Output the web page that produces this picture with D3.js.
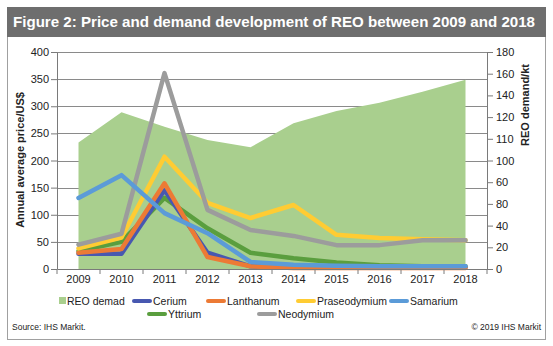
<!DOCTYPE html>
<html lang="en">
<head>
  <meta charset="UTF-8"/>
  <title>Price and demand development of REO</title>
  <style>
    *{margin:0;padding:0;box-sizing:border-box}
    body{background:#fff;font-family:"Liberation Sans",Arial,sans-serif}
    svg text{font-family:"Liberation Sans",Arial,sans-serif}
  </style>
</head>
<body>
<svg id="chart" width="553" height="346"></svg>
<script src="https://d3js.org/d3.v7.min.js"></script>
<script>
  // data
  const years = ['2009','2010','2011','2012','2013','2014','2015','2016','2017','2018'];
  const demand = [105, 130, 118, 107, 101, 121, 131, 138, 147, 157];   // kt (right axis)
  const cerium       = [28, 28, 145, 30, 5, 3, 3, 3, 3, 3];
  const lanthanum    = [30, 37, 158, 22, 5, 2, 2, 2, 2, 2];
  const praseodymium = [38, 58, 207, 122, 94, 118, 63, 57, 55, 53];
  const samarium     = [131, 173, 103, 66, 13, 8, 6, 5, 5, 5];
  const yttrium      = [33, 50, 131, 75, 30, 20, 12, 7, 5, 5];
  const neodymium    = [45, 65, 361, 109, 72, 61, 44, 44, 53, 53];
  const priceTicks = [0, 50, 100, 150, 200, 250, 300, 350, 400];
  const demandTickLabels = ['0','20','40','80','60','100','110','120','140','160','180'];

  const series = [
    {name:'Yttrium',      values:yttrium,      color:'#5a9e3e'},
    {name:'Cerium',       values:cerium,       color:'#4858b0'},
    {name:'Lanthanum',    values:lanthanum,    color:'#ec7a35'},
    {name:'Praseodymium', values:praseodymium, color:'#ffcc33'},
    {name:'Neodymium',    values:neodymium,    color:'#9c9c9c'},
    {name:'Samarium',     values:samarium,     color:'#5b9bd8'}
  ];

  const svg = d3.select('#chart');
  const X0 = 57, X1 = 487, Y0 = 52, Y1 = 269;

  // frame + title bar
  svg.append('rect').attr('x',7.5).attr('y',7.5).attr('width',538).attr('height',332)
    .attr('fill','#fff').attr('stroke','#a0a0a0');
  svg.append('rect').attr('x',7).attr('y',7).attr('width',539).attr('height',30).attr('fill','#6e6e6e');
  svg.append('text').attr('x',13).attr('y',27).attr('fill','#fff')
    .attr('font-size',15).attr('font-weight','bold')
    .attr('textLength',522).attr('lengthAdjust','spacingAndGlyphs')
    .text('Figure 2: Price and demand development of REO between 2009 and 2018');

  const x = d3.scaleBand().domain(years).range([X0, X1]);
  const y = d3.scaleLinear().domain([0, 400]).range([Y1, Y0]);
  const yR = d3.scaleLinear().domain([0, 180]).range([Y1, Y0]);
  const cx = d => x(d) + x.bandwidth() / 2;

  // gridlines
  svg.append('g').selectAll('line').data(priceTicks.slice(1)).join('line')
    .attr('x1',X0).attr('x2',X1).attr('y1',d=>Math.round(y(d))+0.5).attr('y2',d=>Math.round(y(d))+0.5)
    .attr('stroke','#8a8a8a').attr('stroke-width',1);

  // demand area
  const area = d3.area().x((d,i)=>cx(years[i])).y0(Y1).y1(d=>yR(d));
  svg.append('path').datum(demand).attr('d',area).attr('fill','#a9cf8e');

  // price lines
  const line = d3.line().x((d,i)=>cx(years[i])).y(d=>y(d));
  svg.append('g').selectAll('path').data(series).join('path')
    .attr('d',s=>line(s.values)).attr('fill','none')
    .attr('stroke',s=>s.color).attr('stroke-width',4.5)
    .attr('stroke-linejoin','round').attr('stroke-linecap','round');

  // axes
  const styleAxis = g => {
    g.selectAll('.domain,.tick line').attr('stroke','#7a7a7a');
    g.selectAll('text').attr('font-size',11).attr('fill','#222');
  };
  svg.append('g').attr('transform',`translate(${X0},0)`)
    .call(d3.axisLeft(y).tickValues(priceTicks).tickSize(6).tickSizeOuter(0).tickPadding(2))
    .call(styleAxis);
  svg.append('g').attr('transform',`translate(${X1},0)`)
    .call(d3.axisRight(yR).tickValues(d3.range(0,181,18)).tickSize(6).tickSizeOuter(0).tickPadding(3)
      .tickFormat((d,i)=>demandTickLabels[i]))
    .call(styleAxis);
  const xa = svg.append('g').attr('transform',`translate(0,${Y1})`)
    .call(d3.axisBottom(x).tickSize(0).tickSizeOuter(0).tickPadding(6))
    .call(styleAxis);
  xa.selectAll('.bnd').data(years).join('line')
    .attr('x1',(d,i)=>X0+x.bandwidth()*(i+1)).attr('x2',(d,i)=>X0+x.bandwidth()*(i+1))
    .attr('y1',0).attr('y2',5).attr('stroke','#7a7a7a');
  xa.append('line').attr('x1',X0).attr('x2',X0).attr('y1',0).attr('y2',5).attr('stroke','#7a7a7a');

  // axis titles
  svg.append('text').attr('transform','translate(24,160) rotate(-90)').attr('text-anchor','middle')
    .attr('font-size',11).attr('font-weight','bold').attr('fill','#222').text('Annual average price/US$');
  svg.append('text').attr('transform','translate(529,105) rotate(-90)').attr('text-anchor','middle')
    .attr('font-size',11).attr('font-weight','bold').attr('fill','#222').text('REO demand/kt');

  // legend
  const legend = [
    {name:'REO demad', color:'#a9cf8e', box:true, x:59, y:301},
    {name:'Cerium', color:'#4858b0', x:133, y:301},
    {name:'Lanthanum', color:'#ec7a35', x:207, y:301},
    {name:'Praseodymium', color:'#ffcc33', x:297, y:301},
    {name:'Samarium', color:'#5b9bd8', x:390, y:301},
    {name:'Yttrium', color:'#5a9e3e', x:148, y:314},
    {name:'Neodymium', color:'#9c9c9c', x:258, y:314}
  ];
  const lg = svg.append('g').selectAll('g').data(legend).join('g')
    .attr('transform',d=>`translate(${d.x},${d.y})`);
  lg.filter(d=>d.box).append('rect').attr('x',0).attr('y',-4).attr('width',7).attr('height',7).attr('fill',d=>d.color);
  lg.filter(d=>!d.box).append('line').attr('x1',1).attr('x2',17).attr('y1',0).attr('y2',0)
    .attr('stroke',d=>d.color).attr('stroke-width',4).attr('stroke-linecap','round');
  lg.append('text').attr('x',d=>d.box?8:20).attr('y',4).attr('font-size',10.5).attr('fill','#222').text(d=>d.name);

  // footer
  svg.append('text').attr('x',12).attr('y',330).attr('font-size',8.5).attr('fill','#222').text('Source: IHS Markit.');
  svg.append('text').attr('x',541).attr('y',330).attr('text-anchor','end').attr('font-size',8.5).attr('fill','#222').text('© 2019 IHS Markit');
</script>
</body>
</html>
